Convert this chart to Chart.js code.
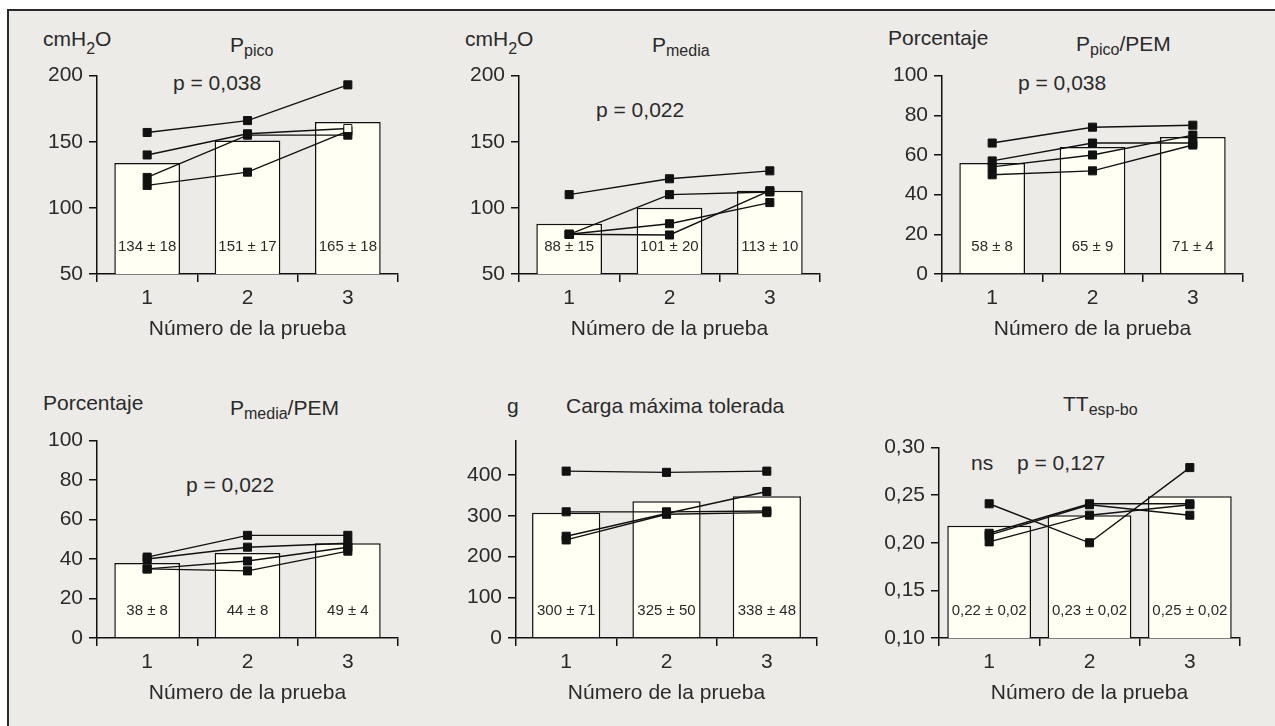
<!DOCTYPE html>
<html>
<head>
<meta charset="utf-8">
<script src="https://cdn.jsdelivr.net/npm/chart.js@4.4.1/dist/chart.umd.min.js"></script>
<style>
  html, body { margin: 0; padding: 0; background: #fff; }
  body { width: 1275px; height: 726px; overflow: hidden; position: relative;
         font-family: 'Liberation Sans', Arial, sans-serif; color: #2a2a2a; }
  #frame { position: absolute; left: 7px; top: 9px; width: 1300px; height: 760px;
           background: #ecebe7; border-top: 2px solid #2a2a2a; border-left: 2px solid #2a2a2a; }
  .panel { position: absolute; }
  .lbl { position: absolute; font-size: 21px; line-height: 21px; white-space: nowrap; }
  .lbl sub { font-size: 16px; line-height: 0; vertical-align: -4px; }
  .lbl sub.low { vertical-align: -8px; }
</style>
</head>
<body>
<div id="frame"></div>

<!-- textos de cabecera -->
<div class="lbl" style="left:43px;top:28px">cmH<sub class="low">2</sub>O</div>
<div class="lbl" style="left:230px;top:34px">P<sub>pico</sub></div>
<div class="lbl" style="left:173px;top:72px">p = 0,038</div>

<div class="lbl" style="left:465px;top:28px">cmH<sub class="low">2</sub>O</div>
<div class="lbl" style="left:652px;top:34px">P<sub>media</sub></div>
<div class="lbl" style="left:596px;top:99px">p = 0,022</div>

<div class="lbl" style="left:888px;top:27px">Porcentaje</div>
<div class="lbl" style="left:1076px;top:33px">P<sub>pico</sub>/PEM</div>
<div class="lbl" style="left:1018px;top:72px">p = 0,038</div>

<div class="lbl" style="left:43px;top:392px">Porcentaje</div>
<div class="lbl" style="left:230px;top:397px">P<sub>media</sub>/PEM</div>
<div class="lbl" style="left:186px;top:474px">p = 0,022</div>

<div class="lbl" style="left:507px;top:395px">g</div>
<div class="lbl" style="left:566px;top:395px">Carga máxima tolerada</div>

<div class="lbl" style="left:1063px;top:393px">TT<sub>esp-bo</sub></div>
<div class="lbl" style="left:971px;top:452px">ns</div>
<div class="lbl" style="left:1017px;top:452px">p = 0,127</div>

<script>
// Datos
const trials = ['1', '2', '3'];

const pPicoMean = [134, 151, 165];
const pPicoText = ['134 ± 18', '151 ± 17', '165 ± 18'];
const pPicoSubjects = [[157, 166, 193], [140, 156, 160], [123, 155, 155], [117, 127, 158]];
const pPicoOpen = [1, 2]; // sujeto, prueba con cuadrado vacío

const pMediaMean = [88, 100, 113];
const pMediaText = ['88 ± 15', '101 ± 20', '113 ± 10'];
const pMediaSubjects = [[110, 122, 128], [80, 110, 112], [80, 88, 104], [80, 79.5, 113]];

const pPicoPemMean = [56, 64, 69];
const pPicoPemText = ['58 ± 8', '65 ± 9', '71 ± 4'];
const pPicoPemSubjects = [[66, 74, 75], [57, 66, 66], [54, 60, 70], [50, 52, 65]];

const pMediaPemMean = [38, 43, 48];
const pMediaPemText = ['38 ± 8', '44 ± 8', '49 ± 4'];
const pMediaPemSubjects = [[41, 52, 52], [40, 46, 48], [35, 39, 46], [35, 34, 44]];

const cargaMean = [308, 336, 348];
const cargaText = ['300 ± 71', '325 ± 50', '338 ± 48'];
const cargaSubjects = [[410, 407, 410], [310, 310, 312], [250, 306, 360], [241, 304, 308]];

const ttMean = [0.218, 0.229, 0.249];
const ttText = ['0,22 ± 0,02', '0,23 ± 0,02', '0,25 ± 0,02'];
const ttSubjects = [[0.241, 0.200, 0.279], [0.210, 0.241, 0.241], [0.208, 0.240, 0.229], [0.201, 0.229, 0.240]];

const fontFam = "'Liberation Sans', Arial, sans-serif";
const textColor = '#2a2a2a';
Chart.defaults.font.family = fontFam;
Chart.defaults.color = textColor;

// texto dentro de las barras
const barText = {
    id: 'barText',
    afterDatasetsDraw(chart, args, opts) {
        const { ctx, chartArea } = chart;
        const meta = chart.getDatasetMeta(0);
        ctx.save();
        ctx.font = '15px ' + fontFam;
        ctx.fillStyle = textColor;
        ctx.textAlign = 'center';
        ctx.textBaseline = 'middle';
        meta.data.forEach((bar, i) => ctx.fillText(opts.labels[i], bar.x, chartArea.bottom - 27));
        ctx.restore();
    }
};

function makePanel(box, yScale, means, texts, subjects, barPct, open) {
    const w = box.right - box.x + 78;
    const h = box.bottom - box.top + 95;
    const div = document.createElement('div');
    div.className = 'panel';
    div.style.left = (box.x - 70) + 'px';
    div.style.top = (box.top - 15) + 'px';
    const cv = document.createElement('canvas');
    cv.width = w; cv.height = h;
    cv.style.width = w + 'px'; cv.style.height = h + 'px';
    div.appendChild(cv);
    document.body.appendChild(div);

    const lines = subjects.map((vals, s) => ({
        type: 'line',
        data: vals,
        borderColor: '#111',
        borderWidth: 1.4,
        pointStyle: 'rect',
        pointRadius: 5.7,
        pointBorderColor: '#111',
        pointBorderWidth: 1,
        pointBackgroundColor: vals.map((v, i) => (open && open[0] === s && open[1] === i) ? '#fffff3' : '#111'),
        order: 1
    }));

    new Chart(cv.getContext('2d'), {
        data: {
            labels: trials,
            datasets: [{
                type: 'bar',
                data: means,
                backgroundColor: '#fffff3',
                borderColor: '#111',
                borderWidth: 1.5,
                barPercentage: barPct,
                categoryPercentage: 1,
                order: 2
            }, ...lines]
        },
        options: {
            responsive: false,
            animation: false,
            layout: { padding: { left: 10, top: 15, right: 8, bottom: 0 } },
            scales: {
                x: {
                    type: 'category',
                    offset: true,
                    grid: { display: true, offset: true, drawOnChartArea: false, tickLength: 8, color: '#111', lineWidth: 1.5 },
                    border: { display: true, color: '#111', width: 1.5 },
                    ticks: { font: { size: 21 }, padding: 4, color: textColor },
                    title: { display: true, text: 'Número de la prueba', font: { size: 21 }, color: textColor, padding: { top: 0, bottom: 12 } },
                    afterFit(s) { s.height = 80; }
                },
                y: {
                    min: yScale.min,
                    max: yScale.max,
                    ticks: {
                        stepSize: yScale.step,
                        includeBounds: false,
                        font: { size: 21 },
                        padding: 6,
                        color: textColor,
                        callback: yScale.fmt || (v => v)
                    },
                    grid: { drawOnChartArea: false, tickLength: 8, color: '#111', lineWidth: 1.5 },
                    border: { display: true, color: '#111', width: 1.5 },
                    afterFit(s) { s.width = 60; }
                }
            },
            plugins: {
                legend: { display: false },
                tooltip: { enabled: false },
                barText: { labels: texts }
            }
        },
        plugins: [barText]
    });
}

makePanel({ x: 97, top: 72, bottom: 274, right: 398 }, { min: 50, max: 200, step: 50 },
    pPicoMean, pPicoText, pPicoSubjects, 0.655, pPicoOpen);
makePanel({ x: 519, top: 72, bottom: 274, right: 820 }, { min: 50, max: 200, step: 50 },
    pMediaMean, pMediaText, pMediaSubjects, 0.655);
makePanel({ x: 942, top: 72, bottom: 274, right: 1243 }, { min: 0, max: 100, step: 20 },
    pPicoPemMean, pPicoPemText, pPicoPemSubjects, 0.655);
makePanel({ x: 97, top: 437, bottom: 638, right: 398 }, { min: 0, max: 100, step: 20 },
    pMediaPemMean, pMediaPemText, pMediaPemSubjects, 0.655);
makePanel({ x: 516, top: 437, bottom: 638, right: 817 }, { min: 0, max: 485, step: 100 },
    cargaMean, cargaText, cargaSubjects, 0.68);
makePanel({ x: 939, top: 444, bottom: 638, right: 1240 }, { min: 0.10, max: 0.30, step: 0.05, fmt: v => v.toFixed(2).replace('.', ',') },
    ttMean, ttText, ttSubjects, 0.835);
</script>
</body>
</html>
